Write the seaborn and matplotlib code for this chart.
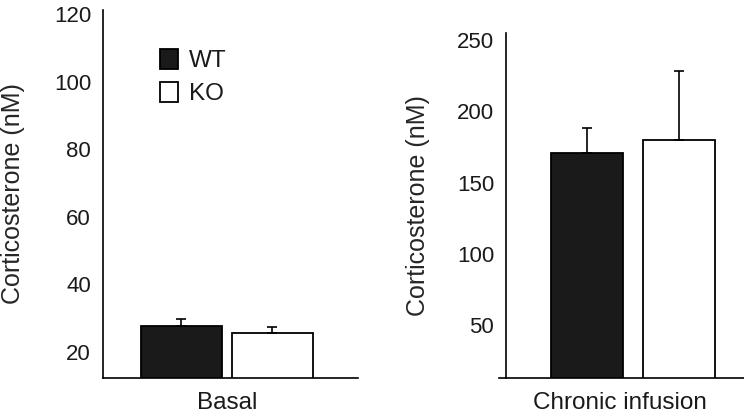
import pandas as pd
import seaborn as sns
import matplotlib.pyplot as plt

# values (mean and upper error)
conditions = ["Basal", "Chronic infusion"]
genotypes = ["WT", "KO"]
wt_mean = [27.7, 171.0]
wt_err = [2.1, 17.5]
ko_mean = [25.6, 180.0]
ko_err = [1.8, 48.0]

basal_ticks = [20, 40, 60, 80, 100, 120]
chronic_ticks = [50, 100, 150, 200, 250]

sns.set_theme(style="white")
plt.rcParams['font.family'] = ['Liberation Sans', 'DejaVu Sans']
plt.rcParams['text.color'] = '#1a1a1a'

colors = {"WT": "#1a1a1a", "KO": "white"}

# -----------------------------
# Build tables
# -----------------------------
df = pd.DataFrame({
    'condition': conditions * 2,
    'genotype': ['WT'] * 2 + ['KO'] * 2,
    'value': wt_mean + ko_mean,
    'err': wt_err + ko_err,
})

fig = plt.figure(figsize=(7.44, 4.16), dpi=100)
W, H = 744, 416

# pixel boxes of the two panels
ax1 = fig.add_axes([103 / W, 1 - 378 / H, 255 / W, 368 / H])
ax2 = fig.add_axes([499 / W, 1 - 378 / H, 245 / W, 345 / H])

# axes, condition, y ticks, ylim, xlim, bar gap, x position of category label
panels = [
    (ax1, "Basal", basal_ticks, (12.3, 121.3), (-0.486, 0.514), 0.11, 0.0),
    (ax2, "Chronic infusion", chronic_ticks, (13, 255), (-0.519, 0.430), 0.21, -0.05),
]

for ax, cond, ticks, ylim, xlim, gap, xlab in panels:
    sub = df[df['condition'] == cond]
    sns.barplot(
        data=sub,
        x='condition',
        y='value',
        hue='genotype',
        hue_order=genotypes,
        palette=colors,
        width=0.714,
        gap=gap,
        errorbar=None,
        edgecolor='black',
        linewidth=1.3,
        ax=ax,
    )
    # upper-only error bars on top of each bar
    for cont, g in zip(ax.containers, genotypes):
        e = sub.loc[sub['genotype'] == g, 'err'].values[0]
        for p in cont.patches:
            xc = p.get_x() + p.get_width() / 2
            ax.errorbar(
                xc, p.get_height(), yerr=[[0], [e]],
                fmt='none', ecolor='black', elinewidth=1.2,
                capsize=3.6, capthick=1.2, zorder=1,
            )
    ax.set_ylim(*ylim)
    ax.set_xlim(*xlim)
    ax.set_yticks(ticks)
    ax.set_xticks([xlab], [cond])
    ax.set_xlabel('')
    ax.set_ylabel('Corticosterone (nM)', fontsize=18)
    ax.tick_params(axis='both', length=0, colors='#1a1a1a')
    ax.tick_params(axis='y', pad=8.6, labelsize=16)
    ax.tick_params(axis='x', pad=10, labelsize=17.5)
    for s in ['top', 'right']:
        ax.spines[s].set_visible(False)
    for s in ['left', 'bottom']:
        ax.spines[s].set_color('black')
        ax.spines[s].set_linewidth(1.2)
    ax.set_facecolor('none')
    if ax.get_legend() is not None:
        ax.get_legend().remove()

# left spine of the right panel sits a bit inside the x axis line
ax2.spines['left'].set_position(('data', -0.492))
ax1.yaxis.set_label_coords(-0.306, 0.5)
ax2.yaxis.set_label_coords(-0.28, 0.5)

# legend in the left panel
h, l = ax1.get_legend_handles_labels()
ax1.legend(
    h, l,
    loc='upper left',
    bbox_to_anchor=(0.2235, 0.895),
    frameon=False,
    fontsize=17.5,
    borderpad=0,
    borderaxespad=0,
    handlelength=0.74,
    handleheight=0.9,
    handletextpad=0.45,
    labelspacing=0.4,
)

fig.savefig('out.png', dpi=100)
